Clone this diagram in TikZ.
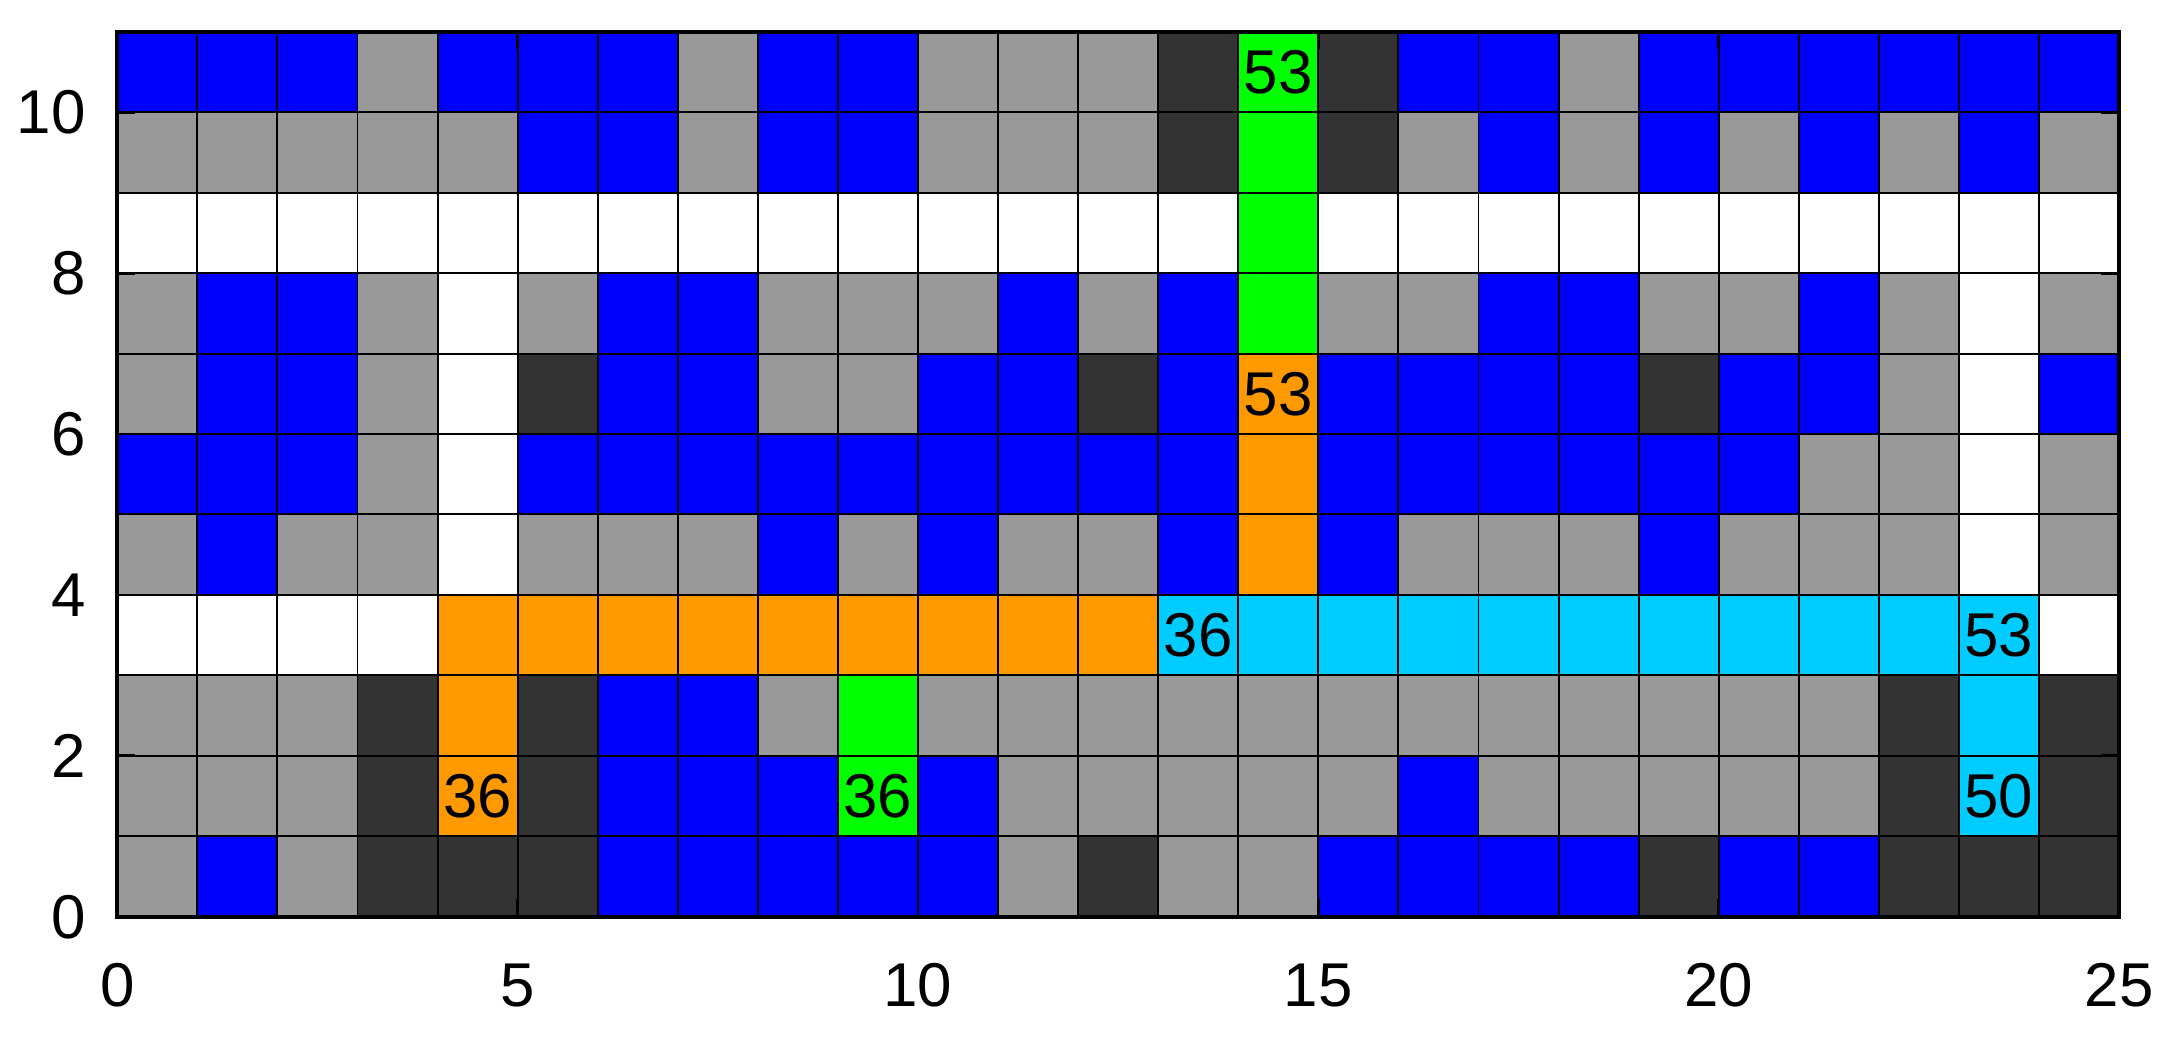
\documentclass[tikz,border=0pt]{standalone}
\usepackage{fontspec}
\setmainfont{Liberation Sans}
\definecolor{cB}{RGB}{0,0,255}
\definecolor{cG}{RGB}{153,153,153}
\definecolor{cD}{RGB}{51,51,51}
\definecolor{cW}{RGB}{255,255,255}
\definecolor{cO}{RGB}{255,153,0}
\definecolor{cL}{RGB}{0,255,0}
\definecolor{cC}{RGB}{0,204,255}
\begin{document}
\begin{tikzpicture}[x=1.00088cm,y=1.0056cm,
  cell/.style={draw=black,line width=0.7pt},
  lbl/.style={inner sep=0pt,font=\fontsize{22}{24}\selectfont},
  frame/.style={draw=black,line width=1.3pt},
  tick/.style={draw=black,line width=1pt}]
\useasboundingbox (-1.466cm,-1.679cm) rectangle (25.709cm,11.459cm);
\foreach \r [count=\j from 0] in {
{B,B,B,G,B,B,B,G,B,B,G,G,G,D,L,D,B,B,G,B,B,B,B,B,B},
{G,G,G,G,G,B,B,G,B,B,G,G,G,D,L,D,G,B,G,B,G,B,G,B,G},
{W,W,W,W,W,W,W,W,W,W,W,W,W,W,L,W,W,W,W,W,W,W,W,W,W},
{G,B,B,G,W,G,B,B,G,G,G,B,G,B,L,G,G,B,B,G,G,B,G,W,G},
{G,B,B,G,W,D,B,B,G,G,B,B,D,B,O,B,B,B,B,D,B,B,G,W,B},
{B,B,B,G,W,B,B,B,B,B,B,B,B,B,O,B,B,B,B,B,B,G,G,W,G},
{G,B,G,G,W,G,G,G,B,G,B,G,G,B,O,B,G,G,G,B,G,G,G,W,G},
{W,W,W,W,O,O,O,O,O,O,O,O,O,C,C,C,C,C,C,C,C,C,C,C,W},
{G,G,G,D,O,D,B,B,G,L,G,G,G,G,G,G,G,G,G,G,G,G,D,C,D},
{G,G,G,D,O,D,B,B,B,L,B,G,G,G,G,G,B,G,G,G,G,G,D,C,D},
{G,B,G,D,D,D,B,B,B,B,B,G,D,G,G,B,B,B,B,D,B,B,D,D,D}}
{
  \foreach \c [count=\i from 0] in \r
    \path[cell,fill=c\c] (\i,{10-\j}) rectangle ++(1,1);
}
% cell labels
\node[lbl] (t1) at (14.5,10.5) {53};
\node[lbl] (t2) at (14.5,6.5) {53};
\node[lbl] (t3) at (13.5,3.5) {36};
\node[lbl] (t4) at (23.5,3.5) {53};
\node[lbl] (t5) at (4.5,1.5) {36};
\node[lbl] (t6) at (9.5,1.5) {36};
\node[lbl] (t7) at (23.5,1.5) {50};
% frame and ticks
\path[frame] (0,0) rectangle (25,11);
\foreach \v in {0,2,...,10} {
  \path[tick] (0,\v) -- ++(0.22,0);
  \path[tick] (25,\v) -- ++(-0.22,0);
}
\foreach \v in {0,5,...,25} {
  \path[tick] (\v,0) -- ++(0,0.22);
  \path[tick] (\v,11) -- ++(0,-0.22);
}
% axis labels
\foreach \v in {0,2,...,10}
  \node[lbl,anchor=east] (y\v) at ([xshift=-0.39cm]0,\v) {\v};
\foreach \v in {0,5,...,25}
  \node[lbl] (x\v) at ([yshift=-0.86cm]\v,0) {\v};
\end{tikzpicture}
\end{document}
